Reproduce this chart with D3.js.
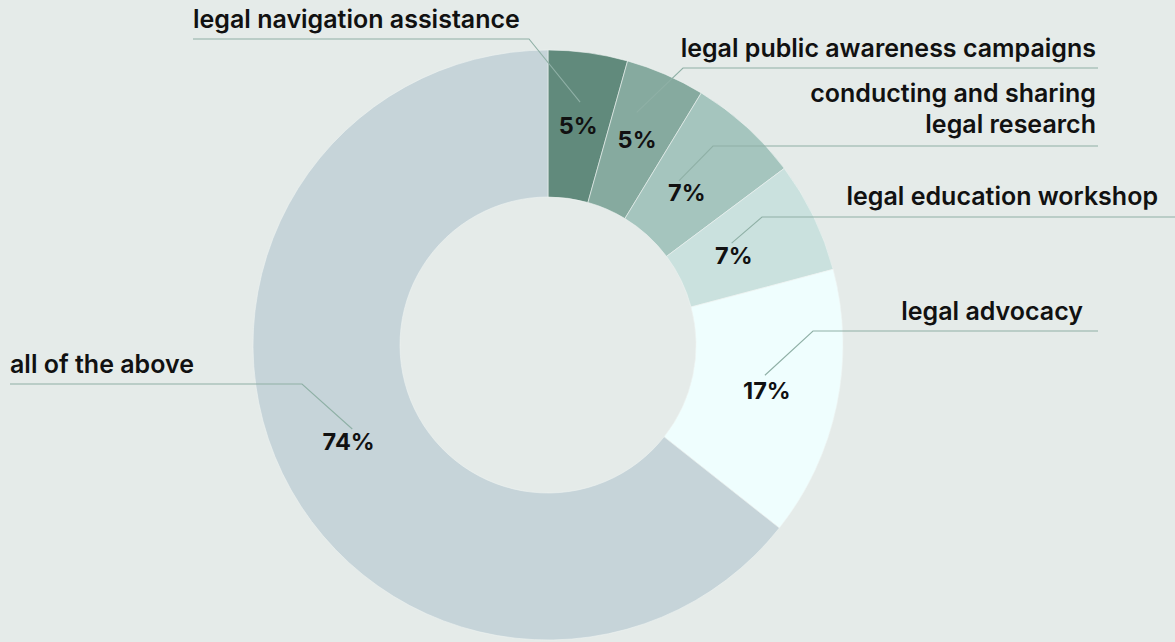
<!DOCTYPE html>
<html>
<head>
<meta charset="utf-8">
<script src="https://cdn.jsdelivr.net/npm/d3@7"></script>
<style>
  html, body { margin: 0; padding: 0; background: #e5ebe9; }
  svg { display: block; }
  text { font-family: Inter, "Noto Sans", sans-serif; }
</style>
</head>
<body>
<svg id="chart" width="1175" height="642"></svg>
<script>
// ---- data ----
const categories = [
  "legal navigation assistance",
  "legal public awareness campaigns",
  "conducting and sharing legal research",
  "legal education workshop",
  "legal advocacy",
  "all of the above"
];
const values = [5, 5, 7, 7, 17, 74];
const percentLabels = ["5%", "5%", "7%", "7%", "17%", "74%"];
const labelLines = [
  ["legal navigation assistance"],
  ["legal public awareness campaigns"],
  ["conducting and sharing", "legal research"],
  ["legal education workshop"],
  ["legal advocacy"],
  ["all of the above"]
];
const colors = ["#618a7c", "#86aa9f", "#a5c5be", "#cae1de", "#effefe", "#c6d4d9"];

// ---- layout (label placement) ----
const W = 1175, H = 642;
const cx = 548, cy = 345, rOuter = 295, rInner = 148;
// per label: text anchor, text x, first baseline, line y, line x-range, elbow x,
// leader start (radius, angle offset in deg), percent label radial offset
const labelLayout = [
  { anchor: "start", tx: 193,  ty: 28,  ly: 39,  lx0: 193, lx1: 529,  elbow: 529, r: 245, da: -0.3, pr: 0 },
  { anchor: "end",   tx: 1096, ty: 57,  ly: 68,  lx0: 683, lx1: 1098, elbow: 683, r: 249, da: -2.6, pr: 2 },
  { anchor: "end",   tx: 1096, ty: 102, ly: 146, lx0: 713, lx1: 1098, elbow: 713, r: 210, da: -3.7, pr: -15 },
  { anchor: "end",   tx: 1158, ty: 205, ly: 217, lx0: 762, lx1: 1175, elbow: 762, r: 210, da: -3.2, pr: -15 },
  { anchor: "end",   tx: 1083, ty: 320, ly: 331, lx0: 813, lx1: 1098, elbow: 813, r: 219, da: -3.8, pr: 2 },
  { anchor: "start", tx: 10,   ty: 373, ly: 384, lx0: 10,  lx1: 302,  elbow: 302, r: 213, da: 2.6,  pr: 0 }
];

const svg = d3.select("#chart");
svg.append("rect").attr("width", W).attr("height", H).attr("fill", "#e5ebe9");

const data = categories.map((c, i) => ({ name: c, value: values[i], pct: percentLabels[i], color: colors[i], lines: labelLines[i], layout: labelLayout[i] }));

const pie = d3.pie().value(d => d.value).sort(null);
const arcs = pie(data);
const arc = d3.arc().innerRadius(rInner).outerRadius(rOuter);

const g = svg.append("g").attr("transform", `translate(${cx},${cy})`);

g.selectAll("path.slice")
  .data(arcs)
  .enter().append("path")
  .attr("class", "slice")
  .attr("d", arc)
  .attr("fill", d => d.data.color)
  .attr("stroke", "#eef3f2")
  .attr("stroke-width", 1)
  .attr("stroke-opacity", 0.6);

const polar = (r, a) => [r * Math.sin(a), -r * Math.cos(a)];

// leader lines
g.selectAll("polyline.leader")
  .data(arcs)
  .enter().append("polyline")
  .attr("class", "leader")
  .attr("fill", "none")
  .attr("stroke", "#8fb0a6")
  .attr("stroke-width", 1.1)
  .attr("points", d => {
    const L = d.data.layout;
    const mid = (d.startAngle + d.endAngle) / 2 + L.da * Math.PI / 180;
    const s = polar(L.r, mid);
    const e = [L.elbow - cx, L.ly - cy];
    const far = (L.anchor === "start") ? [L.lx0 - cx, L.ly - cy] : [L.lx1 - cx, L.ly - cy];
    return [s, e, far].map(p => p.join(",")).join(" ");
  });

// percent labels near arc centroids
g.selectAll("text.pct")
  .data(arcs)
  .enter().append("text")
  .attr("class", "pct")
  .attr("transform", d => {
    const mid = (d.startAngle + d.endAngle) / 2;
    const r = (rInner + rOuter) / 2 + d.data.layout.pr;
    return `translate(${polar(r, mid)})`;
  })
  .attr("text-anchor", "middle")
  .attr("dy", "0.36em")
  .attr("font-size", 23.5)
  .attr("font-weight", 700)
  .attr("fill", "#111")
  .text(d => d.data.pct);

// category labels
const lbl = svg.selectAll("text.cat")
  .data(data)
  .enter().append("text")
  .attr("class", "cat")
  .attr("text-anchor", d => d.layout.anchor)
  .attr("font-size", 25)
  .attr("font-weight", 600)
  .attr("fill", "#111");
lbl.each(function(d) {
  const t = d3.select(this);
  d.lines.forEach((line, i) => {
    t.append("tspan").attr("x", d.layout.tx).attr("y", d.layout.ty + i * 31).text(line);
  });
});
</script>
</body>
</html>
